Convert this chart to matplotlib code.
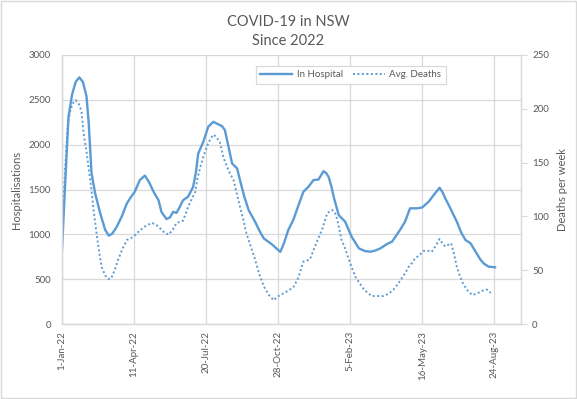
import datetime as dt

import matplotlib
matplotlib.use("Agg")
import matplotlib.pyplot as plt
from matplotlib.patches import Rectangle
import pandas as pd

# ---------------------------------------------------------------------------
# Data - day offsets from 1-Jan-2022
# ---------------------------------------------------------------------------
START = dt.date(2022, 1, 1)

hosp_days = [0, 4, 9, 14, 19, 24, 29, 34, 37, 41, 46, 53, 60, 65, 70, 76, 83,
             90, 96, 101, 108, 115, 121, 127, 134, 138, 145, 150, 154, 159,
             163, 168, 175, 182, 186, 189, 196, 203, 210, 216, 222, 226, 231,
             236, 243, 247, 253, 259, 268, 274, 280, 291, 298, 303, 308, 314,
             321, 328, 335, 342, 349, 356, 363, 367, 370, 374, 377, 384, 393,
             402, 412, 420, 428, 435, 442, 451, 458, 465, 469, 476, 483, 493,
             500, 509, 516, 524, 528, 532, 539, 548, 554, 560, 567, 574, 581,
             586, 592, 601]
hosp_vals = [825, 1500, 2310, 2560, 2700, 2750, 2700, 2540, 2250, 1680, 1457,
             1235, 1048, 985, 1010, 1085, 1200, 1345, 1420, 1475, 1605, 1655,
             1580, 1475, 1380, 1250, 1170, 1190, 1250, 1240, 1300, 1380, 1420,
             1530, 1700, 1900, 2030, 2200, 2255, 2230, 2207, 2163, 1980, 1790,
             1735, 1605, 1420, 1270, 1140, 1040, 955, 890, 840, 805, 900, 1048,
             1160, 1320, 1475, 1530, 1605, 1612, 1705, 1680, 1640, 1530, 1420,
             1215, 1140, 973, 844, 815, 806, 820, 844, 892, 918, 1000, 1048,
             1140, 1290, 1290, 1300, 1365, 1440, 1520, 1470, 1400, 1290, 1140,
             1020, 936, 900, 806, 714, 670, 640, 632]

death_days = [0, 4, 8, 12, 16, 19, 23, 27, 30, 34, 37, 41, 44, 48, 52, 55, 60,
              64, 68, 73, 78, 84, 90, 99, 108, 116, 125, 131, 136, 142, 148,
              154, 159, 164, 168, 172, 175, 180, 185, 188, 192, 196, 201, 206,
              210, 214, 219, 224, 229, 233, 238, 243, 247, 252, 256, 262, 268,
              274, 280, 287, 294, 298, 303, 309, 314, 321, 328, 335, 340, 344,
              351, 356, 361, 368, 375, 379, 382, 388, 393, 398, 403, 407, 413,
              418, 424, 430, 438, 446, 453, 460, 466, 472, 477, 481, 486, 490,
              496, 502, 508, 513, 519, 524, 528, 532, 537, 540, 544, 548, 552,
              557, 563, 569, 575, 581, 587, 590, 593, 595]
death_vals = [85, 140, 185, 200, 206, 208, 205, 198, 177, 160, 145, 124, 105,
              84, 65, 53, 45, 42, 42, 50, 60, 70, 78, 81, 87, 91, 94, 92, 89,
              85, 83, 88, 94, 95, 96, 103, 109, 116, 123, 135, 146, 155, 165,
              172, 176, 174, 169, 155, 146, 140, 134, 120, 109, 96, 84, 72, 60,
              46, 35, 27, 22, 25, 27, 29, 31, 34, 43, 58, 59, 60, 72, 80, 88,
              103, 106, 103, 97, 78, 70, 60, 51, 44, 38, 33, 29, 26, 26, 26,
              28, 32, 37, 43, 48, 53, 57, 61, 64, 68, 68, 67, 73, 79, 75, 72,
              74, 75, 65, 53, 45, 37, 31, 27, 28, 30, 32, 32, 30, 29]

x_tick_labels = ["1-Jan-22", "11-Apr-22", "20-Jul-22", "28-Oct-22",
                 "5-Feb-23", "16-May-23", "24-Aug-23"]
hosp_ticks = [0, 500, 1000, 1500, 2000, 2500, 3000]
death_ticks = [0, 50, 100, 150, 200, 250]

# ---------------------------------------------------------------------------
# Style
# ---------------------------------------------------------------------------
BLUE = "#5B9BD5"
TEXT = "#595959"
GRID = "#D9D9D9"
plt.rcParams["font.family"] = ["Lato", "DejaVu Sans"]


def to_dates(days):
    return [pd.Timestamp(START) + pd.Timedelta(days=d) for d in days]


fig = plt.figure(figsize=(5.77, 3.99), dpi=100)
ax = fig.add_axes([62 / 577, 1 - 324 / 399, 459 / 577, 269 / 399])
ax2 = ax.twinx()

ln1, = ax.plot(to_dates(hosp_days), hosp_vals, color=BLUE, linewidth=1.7,
               solid_joinstyle="round", label="In Hospital")
ln2, = ax2.plot(to_dates(death_days), death_vals, color=BLUE, linewidth=1.4,
                linestyle=(0, (1, 1.3)), label="Avg. Deaths")

tick_dates = pd.to_datetime(x_tick_labels, format="%d-%b-%y")
ax.set_xticks(tick_dates)
ax.set_xticklabels(x_tick_labels, rotation=90, fontsize=7, color=TEXT)
ax.set_xlim(pd.Timestamp(START), pd.Timestamp(START) + pd.Timedelta(days=637))

ax.set_ylim(0, 3000)
ax.set_yticks(hosp_ticks)
ax.set_yticklabels([str(v) for v in hosp_ticks], fontsize=7, color=TEXT)
ax2.set_ylim(0, 250)
ax2.set_yticks(death_ticks)
ax2.set_yticklabels([str(v) for v in death_ticks], fontsize=7, color=TEXT)

ax.grid(True, color=GRID, linewidth=0.9)
ax.set_axisbelow(True)
ax.tick_params(axis="both", length=0, pad=8)
ax.tick_params(axis="x", pad=5)
ax2.tick_params(axis="y", length=4, color=GRID, pad=4)

for a in (ax, ax2):
    a.spines["top"].set_visible(False)
    for side in ("left", "right", "bottom"):
        a.spines[side].set_color(GRID)
        a.spines[side].set_linewidth(0.9)

ax.set_ylabel("Hospitalisations", fontsize=8, color=TEXT, labelpad=5)
ax2.set_ylabel("Deaths per week", fontsize=8, color=TEXT, labelpad=6)

fig.text(0.5, 1 - 22 / 399, "COVID-19 in NSW", ha="center", va="center",
         fontsize=10.5, color=TEXT)
fig.text(0.5, 1 - 41 / 399, "Since 2022", ha="center", va="center",
         fontsize=10.5, color=TEXT)

leg = ax.legend(handles=[ln1, ln2], loc="upper left", ncol=2,
                bbox_to_anchor=((256 - 62) / 459, 1 - (66.5 - 55.5) / 269),
                borderaxespad=0, fontsize=7, frameon=True, fancybox=False,
                handlelength=3.3, columnspacing=1.0, handletextpad=0.45,
                borderpad=0.45, framealpha=1)
leg.get_frame().set_edgecolor(GRID)
leg.get_frame().set_linewidth(0.9)
for t in leg.get_texts():
    t.set_color(TEXT)

# outer chart border
fig.patches.append(Rectangle((0.002, 0.002), 0.996, 0.996, transform=fig.transFigure,
                             fill=False, edgecolor=GRID, linewidth=1.0))

fig.savefig("out.png", dpi=100)
